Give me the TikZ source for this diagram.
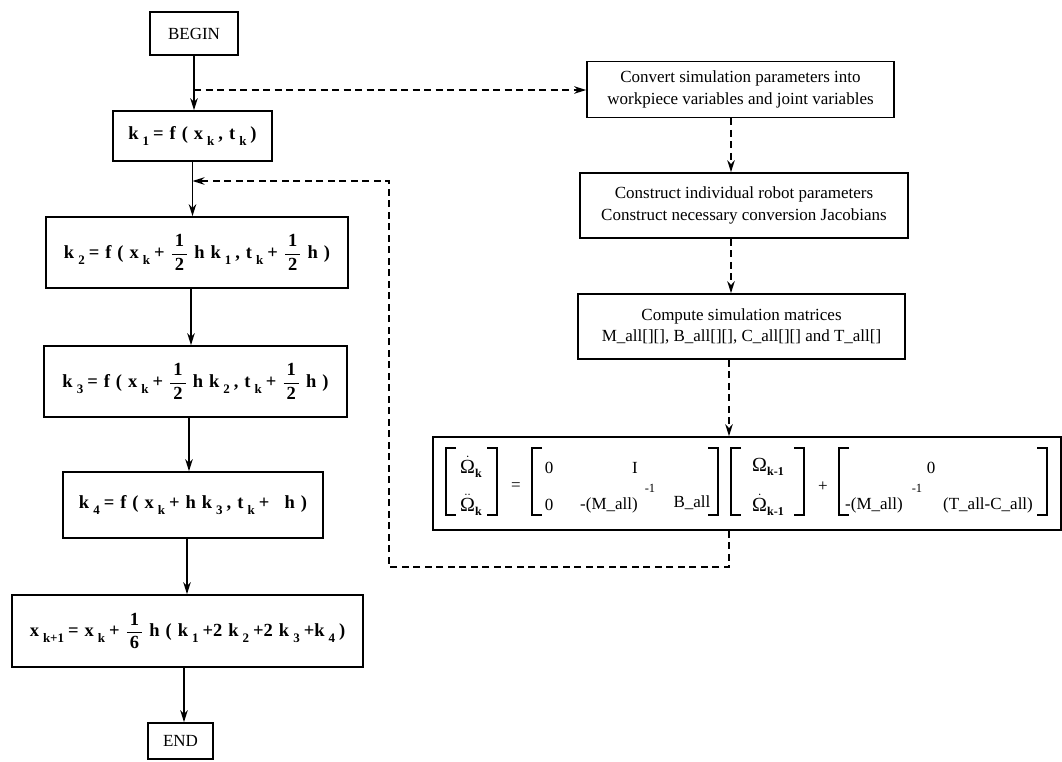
\documentclass[tikz,border=0pt]{standalone}
\usepackage{fontspec}
\setmainfont{Liberation Serif}
\usetikzlibrary{arrows.meta}
\newcommand\sbx[1]{\hspace{4pt}\raisebox{-6pt}{\fontsize{13}{13}\selectfont\bfseries #1}\hspace{4pt}}
\newcommand\sbq[1]{\raisebox{-4.5pt}{\fontsize{12}{12}\selectfont\bfseries #1}}
\newcommand\hfr[1]{$\displaystyle\frac{\mbox{\hspace{3pt}\bfseries 1\hspace{3pt}}}{\mbox{\bfseries #1}}$}
\newcommand\Om{{\fontsize{20}{20}\selectfont Ω}}
\newcommand\Odot{$\dot{\mbox{\Om}}$}
\newcommand\Oddot{$\ddot{\mbox{\Om}}$}
\newcommand\gp{\hspace{6pt}}
\tikzset{
  box/.style={draw, line width=1.7pt, inner sep=0pt, align=center, font=\fontsize{17}{21.5}\selectfont},
  eqbox/.style={box, font=\fontsize{18.5}{22}\selectfont\bfseries},
  arr/.style={line width=1.6pt, -{Stealth[length=12pt,width=7.5pt]}},
  darr/.style={arr, dash pattern=on 7pt off 4.5pt},
  brk/.style={line width=1.7pt},
  et/.style={inner sep=0pt, font=\fontsize{17}{19}\selectfont},
  es/.style={inner sep=0pt, font=\fontsize{12.5}{12.5}\selectfont}
}
\begin{document}
\begin{tikzpicture}[x=1pt,y=-1pt]
\useasboundingbox (0,0) rectangle (1062,761);
% left column
\node[box, minimum width=88pt, minimum height=43pt] (begin) at (194,33.5) {BEGIN};
\node[eqbox, minimum width=159pt, minimum height=50pt] (k1) at (192.5,136) {k\sbx{1}=\gp f\gp(\gp x\sbx{k},\gp t\sbx{k})};
\node[eqbox, minimum width=302pt, minimum height=71pt] (k2) at (197,252.5) {k\sbx{2}=\gp f\gp(\gp x\sbx{k}+\gp\hfr{2}\gp h\gp k\sbx{1},\gp t\sbx{k}+\gp\hfr{2}\gp h\gp)};
\node[eqbox, minimum width=303pt, minimum height=71pt] (k3) at (195.5,381.5) {k\sbx{3}=\gp f\gp(\gp x\sbx{k}+\gp\hfr{2}\gp h\gp k\sbx{2},\gp t\sbx{k}+\gp\hfr{2}\gp h\gp)};
\node[eqbox, minimum width=260pt, minimum height=66pt] (k4) at (193,505) {k\sbx{4}=\gp f\gp(\gp x\sbx{k}+\gp h\gp k\sbx{3},\gp t\sbx{k}+\gp\ \ h\gp)};
\node[eqbox, minimum width=351pt, minimum height=72pt] (x1) at (187.5,631) {x\sbx{k+1}=\gp x\sbx{k}+\gp\hfr{6}\gp h\gp(\gp k\sbx{1}+2\gp k\sbx{2}+2\gp k\sbx{3}+k\sbx{4})};
\node[box, minimum width=65pt, minimum height=36pt] (end) at (180.5,741) {END};
% right column
\node[box, minimum width=307pt, minimum height=56pt] (conv) at (740.5,89.5) {Convert simulation parameters into\\workpiece variables and joint variables};
\node[box, minimum width=328pt, minimum height=65pt] (cons) at (744,205.5) {Construct individual robot parameters\\Construct necessary conversion Jacobians};
\node[box, minimum width=327pt, minimum height=65pt] (comp) at (741.5,326.5) {Compute simulation matrices\\M\_all[][], B\_all[][], C\_all[][] and T\_all[]};
\node[box, minimum width=628pt, minimum height=93pt] (eq) at (747,483.5) {};
% equation contents
\node[et] (o1) at (471,467) {\Odot\sbq{k}};
\node[et] (o2) at (471,505) {\Oddot\sbq{k}};
\node[et] (eqs) at (516,487) {=};
\node[et] (a11) at (549,468) {0};
\node[et] (a12) at (635,468) {I};
\node[et] (a21) at (549,505) {0};
\node[et] (a22) at (609,505) {-(M\_all)};
\node[es] (a22s) at (650,488) {-1};
\node[et] (a23) at (692,503) {B\_all};
\node[et] (w1) at (768,467) {\Om\sbq{k-1}};
\node[et] (w2) at (768,505) {\Odot\sbq{k-1}};
\node[et] (plus) at (823,487) {+};
\node[et] (b1) at (931,468) {0};
\node[et] (b21) at (874,505) {-(M\_all)};
\node[es] (b2s) at (917,488) {-1};
\node[et] (b22) at (988,505) {(T\_all-C\_all)};
% brackets
\foreach \l/\r in {446/497, 532/718, 731/804, 839/1047}{
  \draw[brk] (\l+10,448) -- (\l,448) -- (\l,515) -- (\l+10,515);
  \draw[brk] (\r-10,448) -- (\r,448) -- (\r,515) -- (\r-10,515);
}
% column coordinates
\coordinate (c1) at (192.5,0);
\coordinate (c2) at (191,0);
\coordinate (c3) at (189,0);
\coordinate (c4) at (187,0);
\coordinate (c5) at (184,0);
\coordinate (rc) at (731,0);
\coordinate (rc2) at (729,0);
\coordinate (br) at (194,90);
\coordinate (fbA) at (729,567);
\coordinate (fbB) at (389,567);
\coordinate (fbC) at (389,181);
% solid arrows
\draw[arr] (begin.south) -- (begin.south |- k1.north);
\draw[arr] (k1.south) -- (k1.south |- k2.north);
\draw[arr] (k2.south -| c2) -- (k3.north -| c2);
\draw[arr] (k3.south -| c3) -- (k4.north -| c3);
\draw[arr] (k4.south -| c4) -- (x1.north -| c4);
\draw[arr] (x1.south -| c5) -- (end.north -| c5);
% dashed arrows
\draw[darr] (br) -- (br -| conv.west);
\draw[darr] (conv.south -| rc) -- (cons.north -| rc);
\draw[darr] (cons.south -| rc) -- (comp.north -| rc);
\draw[darr] (comp.south -| rc2) -- (eq.north -| rc2);
\draw[darr] (eq.south -| rc2) -- (fbA) -- (fbB) -- (fbC) -- (fbC -| c1);
\end{tikzpicture}
\end{document}
